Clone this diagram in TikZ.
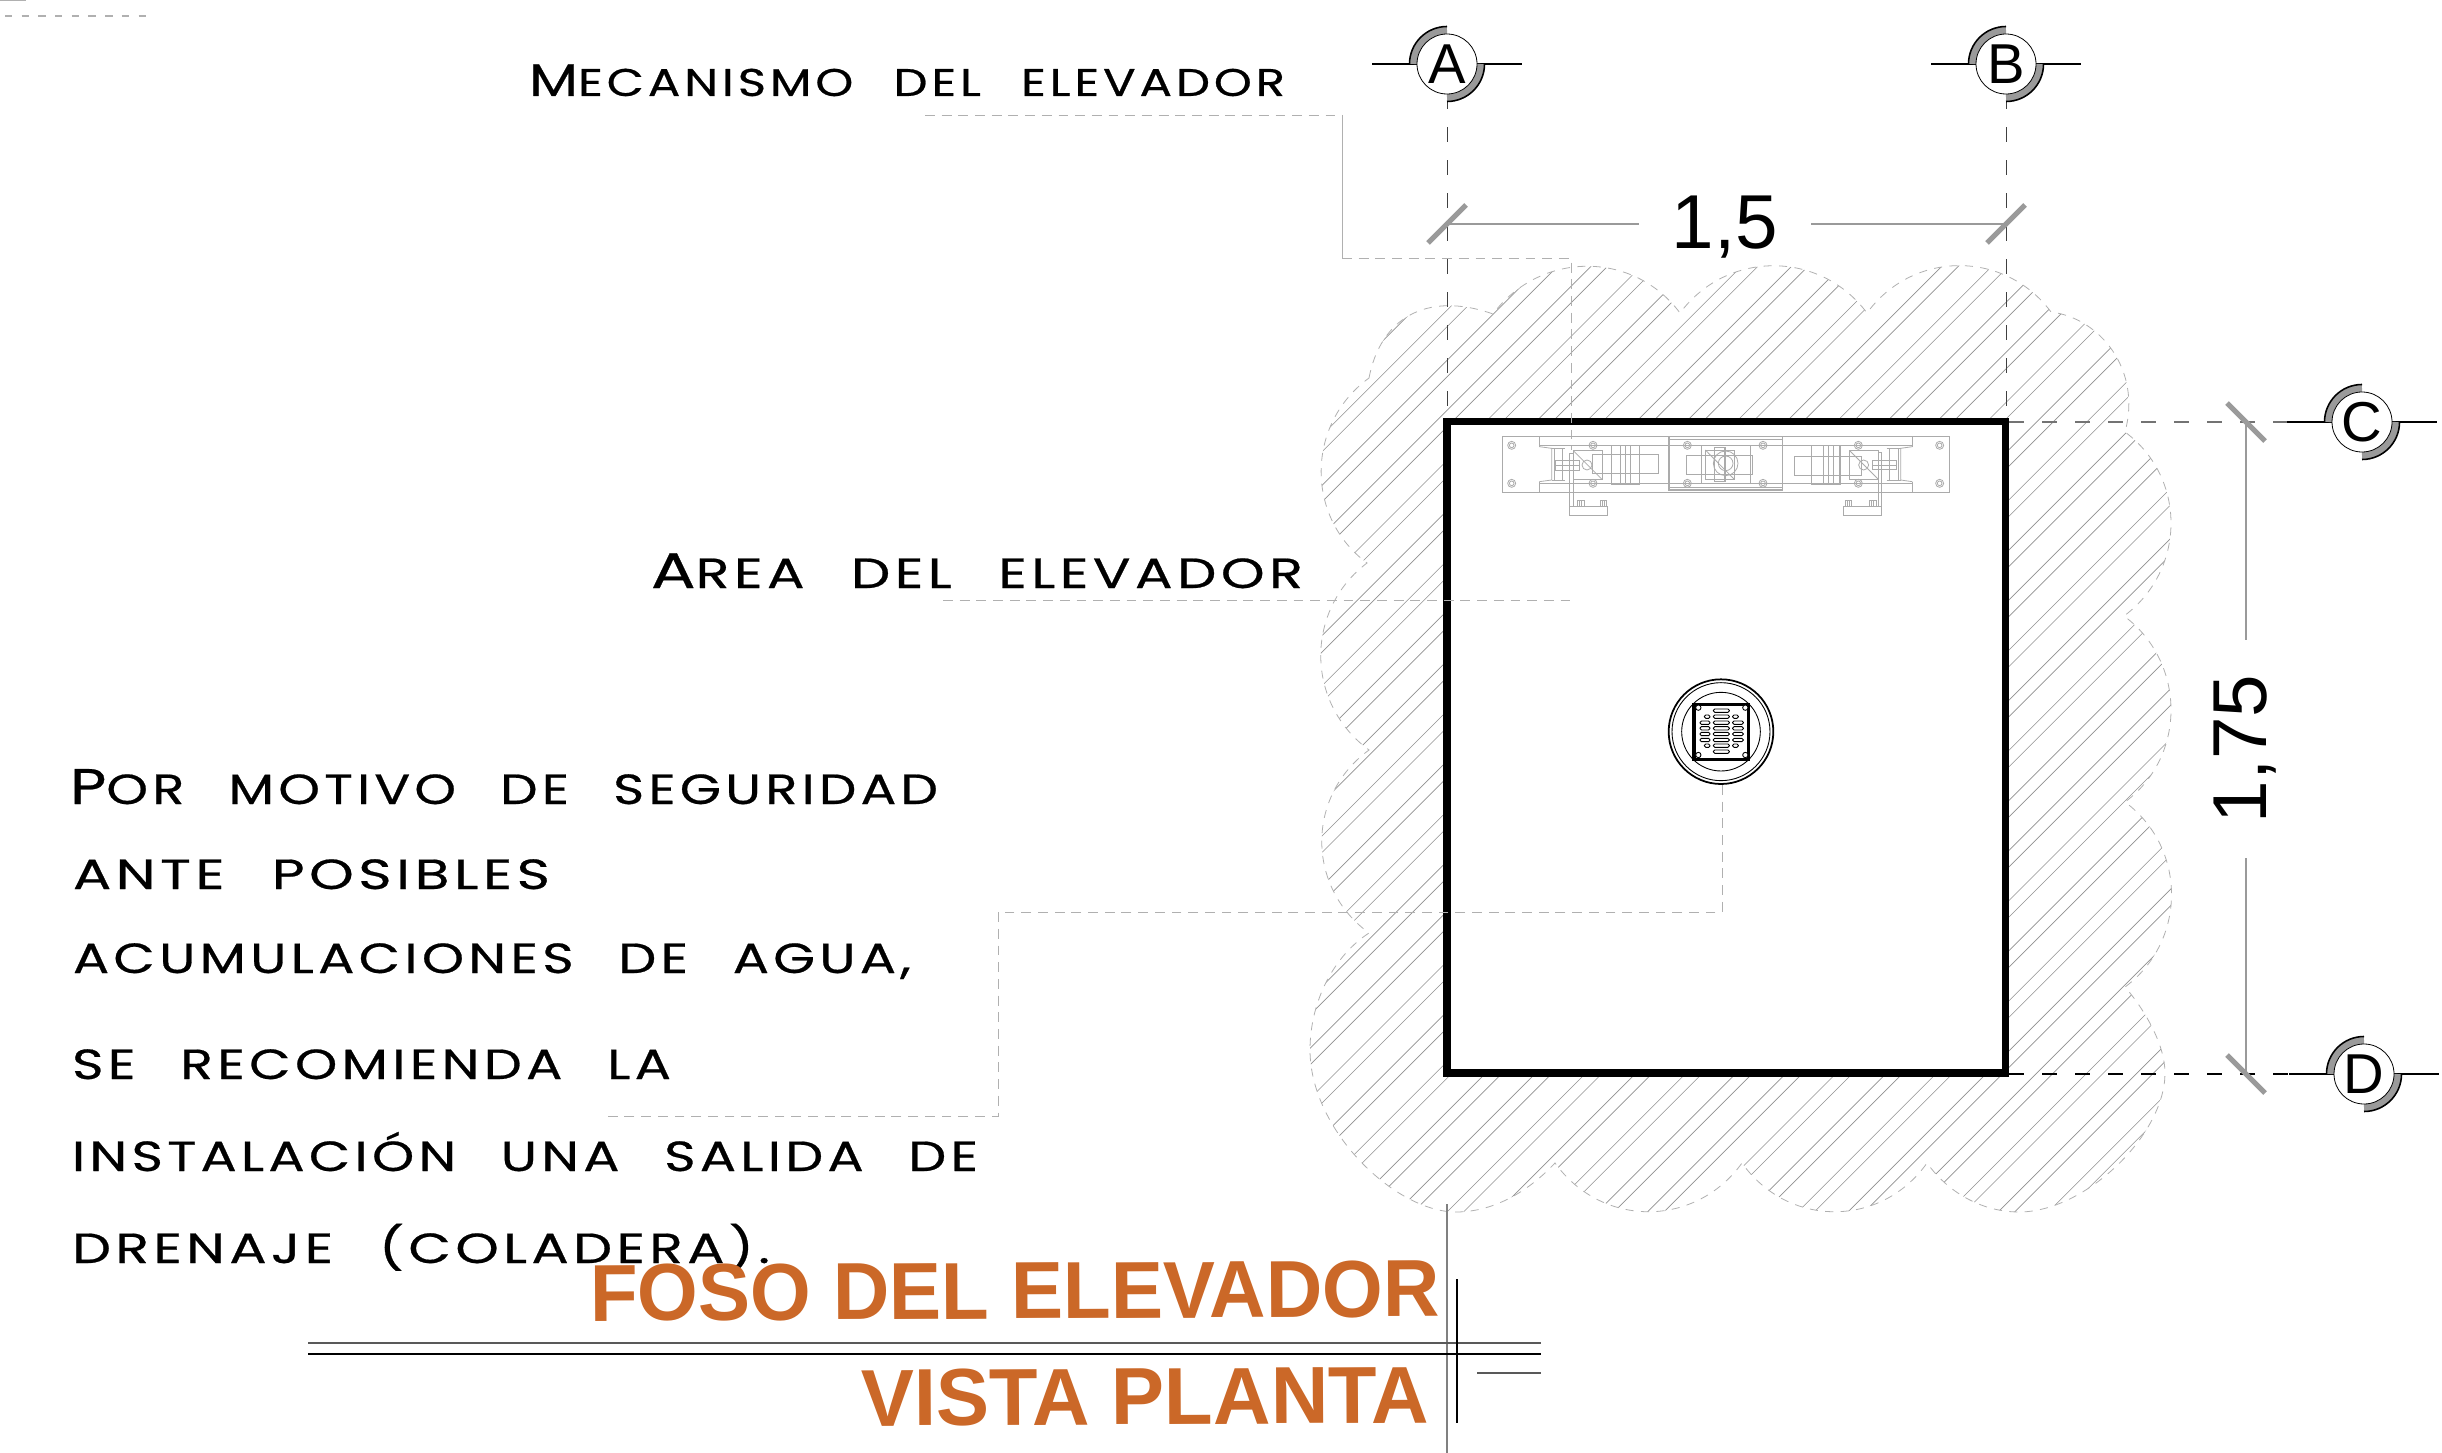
\documentclass[tikz,border=0pt]{standalone}
\usepackage{fontspec}
\usepackage{graphicx}
\setmainfont{Liberation Sans}
\newfontfamily\labfont[LetterSpace=8,WordSpace=2.4,FakeBold=0.5]{Poppins}
\newlength\pxu \pxu=0.02cm
\definecolor{hatchgray}{HTML}{909090}
\definecolor{leadgray}{HTML}{B0B0B0}
\definecolor{dimgray}{HTML}{9A9A9A}
\definecolor{mechgray}{HTML}{ABABAB}
\definecolor{titleorange}{HTML}{CB6828}
\newcommand{\capsline}[5]{\resizebox{#1\pxu}{\height}{\labfont{\fontsize{#3}{#3}\selectfont #2}{\fontsize{#4}{#4}\selectfont #5}}}
\newcommand{\titletxt}[2]{\resizebox{#1\pxu}{\height}{\bfseries\fontsize{46pt}{46pt}\selectfont #2}}
\tikzset{
  txtlabel/.style={inner sep=0pt,outer sep=0pt,anchor=base west,text=black},
  gridline/.style={black!75,line width=0.55pt,dash pattern=on 8.5pt off 10.3pt},
  griddark/.style={black!55,line width=0.7pt,dash pattern=on 8.5pt off 10.3pt},
  griddarker/.style={black,line width=0.7pt,dash pattern=on 8.5pt off 10.3pt},
  leader/.style={leadgray,line width=0.55pt,dash pattern=on 5.6pt off 3.9pt},
  hatchline/.style={hatchgray,line width=0.36pt},
  cloudline/.style={leadgray,line width=0.45pt,dash pattern=on 4.6pt off 4.2pt},
  bubble/.style={circle,draw=black,fill=white,line width=0.45pt,minimum size=60\pxu,inner sep=0pt,outer sep=0pt,font=\fontsize{32pt}{32pt}\selectfont},
  bubarm/.style={black,line width=0.9pt},
  tick/.style={dimgray,line width=3pt},
  dimline/.style={dimgray,line width=0.6pt},
  dimtext/.style={inner sep=0pt,outer sep=0pt,anchor=base,font=\fontsize{43.5pt}{43.5pt}\selectfont},
  mech/.style={mechgray,line width=0.45pt},
  drainline/.style={black,line width=0.5pt},
  titletext/.style={inner sep=0pt,outer sep=0pt,anchor=base west,text=titleorange,rotate=0.3},
  roombox/.style={draw=black,fill=white,line width=4.2pt,inner sep=0pt,outer sep=0pt,minimum width=558.5\pxu,minimum height=651.5\pxu},
}
\newcommand{\bubmark}[2]{%
  \draw[bubarm] (#1,#2) ++(-75,0) -- ++(150,0);
  \draw[dimgray,line width=4pt] (#1,#2) ++(-33.5,0) arc[start angle=180,end angle=270,radius=33.5];
  \draw[dimgray,line width=4pt] (#1,#2) ++(33.5,0) arc[start angle=0,end angle=90,radius=33.5];
  \draw[black,line width=0.9pt] (#1,#2) ++(-37.5,0) arc[start angle=180,end angle=270,radius=37.5];
  \draw[black,line width=0.9pt] (#1,#2) ++(37.5,0) arc[start angle=0,end angle=90,radius=37.5];
}
\begin{document}
\begin{tikzpicture}[x=0.02cm,y=-0.02cm]
\useasboundingbox (0,0) rectangle (2442,1453);
\fill[white] (0,0) rectangle (2442,1453);

% stray marks, top-left
\coordinate (mA) at (5,16); \coordinate (mB) at (146,16);
\draw[leadgray,line width=0.6pt,dash pattern=on 4.2pt off 5.3pt] (mA) -- (mB);
\coordinate (mC) at (0,0.7); \coordinate (mD) at (26,0.7);
\draw[leadgray,line width=0.6pt] (mC) -- (mD);

% hatch, clipped to the cloud
\def\cloudpath{(1369,378) .. controls (1380,320) and (1425,290) .. (1493,314)
  .. controls (1540,251) and (1633,250) .. (1680,313)
  .. controls (1727,250) and (1820,250) .. (1867,313)
  .. controls (1913,250) and (2005,250) .. (2051,312)
  .. controls (2100,318) and (2142,370) .. (2125,432)
  .. controls (2187,478) and (2186,570) .. (2124,616)
  .. controls (2186,662) and (2187,756) .. (2125,802)
  .. controls (2187,848) and (2187,941) .. (2125,987)
  .. controls (2145,1010) and (2165,1045) .. (2165,1073)
  .. controls (2165,1135) and (2085,1212) .. (2019,1212)
  .. controls (1985,1212) and (1950,1195) .. (1927,1163)
  .. controls (1881,1228) and (1788,1228) .. (1742,1163)
  .. controls (1695,1228) and (1602,1228) .. (1555,1163)
  .. controls (1525,1195) and (1490,1212) .. (1456,1212)
  .. controls (1395,1212) and (1310,1130) .. (1310,1050)
  .. controls (1310,1000) and (1335,955) .. (1369,933)
  .. controls (1306,887) and (1306,796) .. (1369,750)
  .. controls (1305,703) and (1305,610) .. (1367,563)
  .. controls (1305,517) and (1306,424) .. (1369,378) -- cycle}
\begin{scope}
  \clip \cloudpath;
  \foreach \k in {-6,...,28}{
    \pgfmathsetmacro{\ca}{1907.5+50.1*\k}
    \pgfmathsetmacro{\cb}{1924+50.1*\k}
    \draw[hatchline] ({\ca-200},200) -- ({\ca-1250},1250);
    \draw[hatchline] ({\cb-200},200) -- ({\cb-1250},1250);
  }
\end{scope}
\draw[cloudline] \cloudpath;

% axis A bottom stub
\coordinate (gS) at (1447,1204); \coordinate (gE) at (1447,1453);
\draw[black!50,line width=0.7pt] (gS) -- (gE);

% axis coordinates
\coordinate (Aaxis) at (1447,94);
\coordinate (Baxis) at (2006,94);
\coordinate (Atop) at (1447,420);
\coordinate (Btop) at (2006,420);
\coordinate (Caxis) at (2287,422);
\coordinate (Daxis) at (2289,1074);
\coordinate (Cwall) at (2009,422);
\coordinate (Dwall) at (2009,1074);

% room
\node[roombox] (room) at (1726.25,747.25) {};

\draw[gridline] (Aaxis) -- (Atop);
\draw[gridline] (Baxis) -- (Btop);
\draw[griddark] (Cwall) -- (Caxis);
\draw[griddarker] (Dwall) -- (Daxis);

% leaders
\coordinate (l1a) at (925,115); \coordinate (l1b) at (1342,115);
\coordinate (l1c) at (1342,258); \coordinate (l1d) at (1571,258);
\coordinate (l1e) at (1571,450);
\draw[leader] (l1a) -- (l1b);
\draw[leadgray,line width=0.5pt] (l1b) -- (l1c);
\draw[leader] (l1c) -- (l1d) -- (l1e);
\coordinate (l2a) at (943,600); \coordinate (l2b) at (1574,600);
\draw[leader] (l2a) -- (l2b);
\coordinate (l3a) at (1722,785); \coordinate (l3b) at (1722,912);
\coordinate (l3c) at (998,912); \coordinate (l3d) at (998,1116);
\coordinate (l3e) at (607,1116);
\draw[leader] (l3a) -- (l3b) -- (l3c) -- (l3d) -- (l3e);

% elevator mechanism
\begin{scope}[shift={(1480,400)},x=0.0066667cm,y=-0.0066667cm]
  \draw[mech] (67,108) rectangle (1408,278);
  \draw[mech] (178,140) -- (178,108) -- (1297,108) -- (1297,140);
  \draw[mech] (178,245) -- (178,278) -- (1297,278) -- (1297,245);
  \draw[mech] (178,137) -- (1297,137);
  \draw[mech] (178,250) -- (1297,250);
  \draw[mech] (178,140) -- (215,145) -- (215,240) -- (178,245);
  \draw[mech] (222,145) -- (222,240) (248,145) -- (248,240) (215,145) -- (255,145) (215,240) -- (255,240);
  \draw[mech] (1297,140) -- (1262,145) -- (1262,240) -- (1297,245);
  \draw[mech] (1255,145) -- (1255,240) (1228,145) -- (1228,240) (1220,145) -- (1262,145) (1220,240) -- (1262,240);
  \draw[mech,line width=0.8pt] (567,110) rectangle (908,270);
  \draw[mech] (567,117) -- (908,117) (567,263) -- (908,263);
  \foreach \bx in {95,339,622,849,1135,1379}{
    \foreach \by in {136,250}{
      \draw[mech] (\bx,\by) circle[radius=12];
      \draw[mech] (\bx,\by) circle[radius=7];
    }
  }
  % centre
  \draw[mech] (665,137) rectangle (812,250);
  \draw[mech] (619,165) rectangle (818,222);
  \draw[mech] (676,150) rectangle (762,237);
  \draw[mech,line width=0.7pt] (703,143) rectangle (735,245);
  \draw[mech] (737,190) circle[radius=37];
  \draw[mech] (737,190) circle[radius=22];
  \draw[mech] (676,150) -- (762,237);
  % left unit
  \draw[mech] (280,152) rectangle (366,238);
  \draw[mech] (280,152) -- (366,238);
  \draw[mech] (321,195) circle[radius=15];
  \draw[mech] (337,163) rectangle (536,219);
  \draw[mech,line width=0.6pt] (394,137) rectangle (479,253);
  \draw[mech] (422,137) -- (422,253) (436,137) -- (436,253) (450,137) -- (450,253);
  \draw[mech] (226,182) rectangle (298,211);
  \draw[mech] (226,197) -- (298,197);
  \draw[mech] (280,160) -- (268,160) -- (268,345) -- (383,345) -- (383,320) -- (268,320);
  \draw[mech] (280,160) -- (280,320);
  \foreach \fx in {292,360}{
    \draw[mech] (\fx,302) rectangle ++(20,18);
    \draw[mech] (\fx+7,302) -- (\fx+7,320) (\fx+13,302) -- (\fx+13,320);
  }
  % right unit
  \draw[mech] (1109,152) rectangle (1195,238);
  \draw[mech] (1109,152) -- (1195,238);
  \draw[mech] (1151,195) circle[radius=15];
  \draw[mech] (943,168) rectangle (1144,226);
  \draw[mech,line width=0.6pt] (995,137) rectangle (1080,253);
  \draw[mech] (1030,137) -- (1030,253) (1045,137) -- (1045,253) (1059,137) -- (1059,253);
  \draw[mech] (1177,182) rectangle (1250,208);
  \draw[mech] (1177,195) -- (1250,195);
  \draw[mech] (1195,158) -- (1205,158) -- (1205,345) -- (1090,345) -- (1090,320) -- (1205,320);
  \draw[mech] (1195,158) -- (1195,320);
  \foreach \fx in {1095,1168}{
    \draw[mech] (\fx,302) rectangle ++(20,18);
    \draw[mech] (\fx+7,302) -- (\fx+7,320) (\fx+13,302) -- (\fx+13,320);
  }
\end{scope}

% drain
\begin{scope}[shift={(1640,660)},x=0.0066667cm,y=-0.0066667cm]
  \draw[drainline,line width=1pt] (243,215) circle[radius=157];
  \draw[drainline] (243,215) circle[radius=147];
  \draw[drainline] (243,215) circle[radius=118];
  \draw[black,line width=2pt] (162,133) rectangle (326,298);
  \foreach \bx/\by in {175/143,316/143,175/285,316/285}{
    \draw[drainline,fill=white] (\bx,\by) circle[radius=8];
  }
  \foreach \sy in {152,170,188,205,222,240,257,275}{
    \draw[drainline,rounded corners=0.8pt] (220,\sy-5) rectangle (268,\sy+5);
  }
  \foreach \sy in {188,205,222,240}{
    \draw[drainline,rounded corners=0.8pt] (180,\sy-5) rectangle (210,\sy+5);
    \draw[drainline,rounded corners=0.8pt] (278,\sy-5) rectangle (310,\sy+5);
  }
  \foreach \sy in {170,257}{
    \draw[drainline,rounded corners=0.8pt] (193,\sy-5) rectangle (210,\sy+5);
    \draw[drainline,rounded corners=0.8pt] (278,\sy-5) rectangle (295,\sy+5);
  }
\end{scope}

% dimensions
\coordinate (tA) at (1447,224); \coordinate (tB) at (2006,224);
\coordinate (tC) at (2246,422); \coordinate (tD) at (2246,1074);
\node[dimtext,minimum width=172\pxu] (dimH) at (1725,249) {1,5};
\node[dimtext,minimum width=218\pxu,rotate=90] (dimV) at (2266,749) {1,75};
\draw[dimline] (tA) -- (tA -| dimH.west);
\draw[dimline] (tB) -- (tB -| dimH.east);
\draw[dimline] (tC) -- (tC |- dimV.east);
\draw[dimline] (tD) -- (tD |- dimV.west);
\draw[tick] (1428,243) -- (1466,205);
\draw[tick] (1987,243) -- (2025,205);
\draw[tick] (2227,403) -- (2265,441);
\draw[tick] (2227,1055) -- (2265,1093);

% axis bubbles
\bubmark{1447}{64}
\bubmark{2006}{64}
\bubmark{2362}{422}
\bubmark{2364}{1074}
\node[bubble] (bA) at (1447,64) {A};
\node[bubble] (bB) at (2006,64) {B};
\node[bubble] (bC) at (2362,422) {C};
\node[bubble] (bD) at (2364,1074) {D};

% notes
\node[txtlabel] (t1) at (529,96) {\capsline{756}{M}{26pt}{22pt}{ECANISMO DEL ELEVADOR}};
\node[txtlabel] (t2) at (651,588) {\capsline{652}{A}{28.5pt}{24pt}{REA DEL ELEVADOR}};
\node[txtlabel] (t3) at (70,804) {\capsline{868}{P}{28.5pt}{24pt}{OR MOTIVO DE SEGURIDAD}};
\node[txtlabel] (t4) at (73,889) {\capsline{477}{}{24pt}{24pt}{ANTE POSIBLES}};
\node[txtlabel] (t5) at (73,973) {\capsline{838}{}{24pt}{24pt}{ACUMULACIONES DE AGUA,}};
\node[txtlabel] (t6) at (72,1079) {\capsline{599}{}{24pt}{24pt}{SE RECOMIENDA LA}};
\node[txtlabel] (t7) at (72,1171) {\capsline{906}{}{24pt}{24pt}{INSTALACIÓN UNA SALIDA DE}};
\node[txtlabel] (t8) at (72,1263) {\capsline{698}{}{24pt}{24pt}{DRENAJE (COLADERA).}};

% title
\node[titletext] (ti1) at (590,1321) {\titletxt{850}{FOSO DEL ELEVADOR}};
\node[titletext] (ti2) at (861,1426) {\titletxt{568}{VISTA PLANTA}};
\coordinate (u1a) at (308,1343); \coordinate (u1b) at (1541,1343);
\coordinate (u2a) at (308,1354); \coordinate (u2b) at (1541,1354);
\coordinate (u3a) at (1457,1279); \coordinate (u3b) at (1457,1423);
\coordinate (u4a) at (1477,1373); \coordinate (u4b) at (1541,1373);
\draw[black!65,line width=0.7pt] (u1a) -- (u1b);
\draw[black,line width=0.9pt] (u2a) -- (u2b);
\draw[black,line width=0.7pt] (u3a) -- (u3b);
\draw[black!65,line width=0.6pt] (u4a) -- (u4b);
\end{tikzpicture}
\end{document}
